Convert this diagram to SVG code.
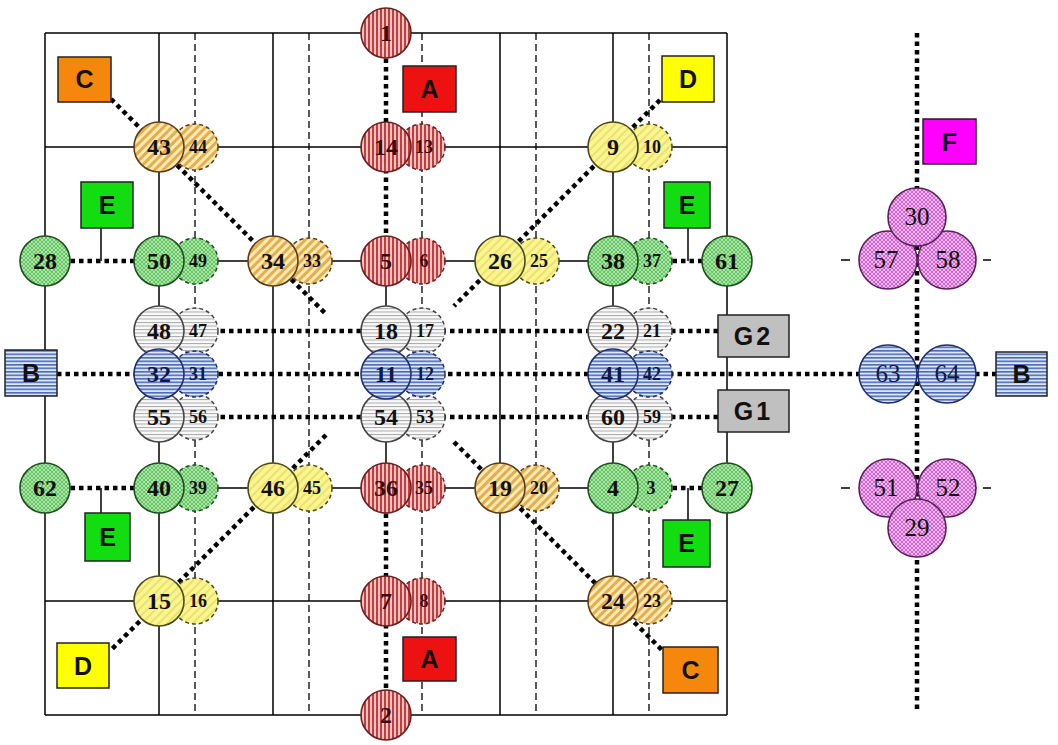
<svg xmlns="http://www.w3.org/2000/svg" width="1058" height="745" viewBox="0 0 1058 745">
<defs>
<pattern id="pRed" width="4" height="4" patternUnits="userSpaceOnUse"><rect width="4" height="4" fill="#f2c4c4"/><rect width="2" height="4" fill="#c43c3c"/></pattern>
<pattern id="pOr" width="6" height="6" patternUnits="userSpaceOnUse" patternTransform="rotate(45)"><rect width="6" height="6" fill="#fcebb8"/><rect width="3" height="6" fill="#e6ae4a"/></pattern>
<pattern id="pYe" width="6" height="6" patternUnits="userSpaceOnUse" patternTransform="rotate(45)"><rect width="6" height="6" fill="#fbf590"/><rect width="2" height="6" fill="#ece070"/></pattern>
<pattern id="pGr" width="4" height="4" patternUnits="userSpaceOnUse"><rect width="4" height="4" fill="#ace8a8"/><path d="M0 0L4 4M4 0L0 4" stroke="#5cbc5c" stroke-width="0.9"/></pattern>
<pattern id="pGy" width="4" height="3.5" patternUnits="userSpaceOnUse"><rect width="4" height="3.5" fill="#fafafa"/><rect width="4" height="1" fill="#a8a8a8"/></pattern>
<pattern id="pBl" width="4" height="3.5" patternUnits="userSpaceOnUse"><rect width="4" height="3.5" fill="#dde6f6"/><rect width="4" height="1.6" fill="#4c6cb8"/></pattern>
<pattern id="pMg" width="4" height="4" patternUnits="userSpaceOnUse"><rect width="4" height="4" fill="#f2b8f2"/><path d="M0 0L4 4M4 0L0 4" stroke="#c45ac4" stroke-width="0.9"/></pattern>
<style>
.grid{stroke:#000;stroke-width:1.5;fill:none}
.dash{stroke:#000;stroke-width:1.3;stroke-dasharray:7 4;fill:none}
.dot{stroke:#000;stroke-width:4.5;stroke-dasharray:4.5 4;fill:none}
.thin{stroke:#000;stroke-width:1.5;fill:none}
.m{stroke-width:1.6}
.s{stroke-width:1.5;stroke-dasharray:4 3}
.red{fill:url(#pRed);stroke:#6a2020}
.or{fill:url(#pOr);stroke:#5a3a18}
.ye{fill:url(#pYe);stroke:#4a4a18}
.gr{fill:url(#pGr);stroke:#1e4e1e}
.gy{fill:url(#pGy);stroke:#444}
.bl{fill:url(#pBl);stroke:#1e2e6e}
.mg{fill:url(#pMg);stroke:#5a1e5a}
.t{font-family:"Liberation Serif","Times New Roman",serif;font-size:24px;font-weight:bold;text-anchor:middle;fill:#111}
.tm{font-weight:normal;font-size:25px}
.ts{font-family:"Liberation Serif","Times New Roman",serif;font-size:18px;font-weight:bold;text-anchor:middle;fill:#111}
.tr{fill:#3a0c0c}
.tb{fill:#0c1848}
.box{stroke:#222;stroke-width:1.5}
.lb{font-family:"Liberation Sans",Arial,sans-serif;font-size:25px;font-weight:bold;text-anchor:middle;fill:#111}
</style>
</defs>
<rect width="1058" height="745" fill="#fff"/>

<g id="grid">
<path class="grid" d="M45 33V715M159 33V715M273 33V715M386 261V488M500 33V715M613 33V715M727 33V715"/>
<path class="dash" d="M195 33V715M309 33V715M422 33V715M536 33V715M649 33V715"/>
<path class="grid" d="M45 33H727M45 147H727M45 601H727M45 715H727M159 261H613M159 488H613"/>
</g>

<g id="connectors">
<path class="dot" d="M386 33V261M386 488V715"/>
<path class="dot" d="M111 99L326 314M454 442L664 652"/>
<path class="dot" d="M660 100L454 306M326 435L110 651"/>
<path class="dot" d="M45 261H159M613 261H727M45 488H159M613 488H727"/>
<path class="dot" d="M57 374H996"/>
<path class="dot" d="M195 331H718M195 417H718"/>
<path class="dot" d="M917 33V712"/>
<path class="thin" d="M101 228V261M688 228V261M101 488V513M688 488V520"/>
<path class="thin" d="M841 260H850M983 260H991M841 488H850M983 488H991"/>
</g>

<g id="n1"><circle class="m red" cx="386" cy="33" r="25"/><text class="t tr" x="386" y="41">1</text></g>
<g id="n2"><circle class="m red" cx="386" cy="715" r="25"/><text class="t tr" x="386" y="723">2</text></g>

<g id="n44"><circle class="s or" cx="195" cy="147" r="23"/><text class="ts" x="198" y="153">44</text></g>
<g id="n43"><circle class="m or" cx="159" cy="147" r="25"/><text class="t" x="159" y="155">43</text></g>
<g id="n13"><circle class="s red" cx="422" cy="147" r="23"/><text class="ts tr" x="424" y="153">13</text></g>
<g id="n14"><circle class="m red" cx="386" cy="147" r="25"/><text class="t tr" x="386" y="155">14</text></g>
<g id="n10"><circle class="s ye" cx="649" cy="147" r="23"/><text class="ts" x="652" y="153">10</text></g>
<g id="n9"><circle class="m ye" cx="613" cy="147" r="25"/><text class="t" x="613" y="155">9</text></g>

<g id="n28"><circle class="m gr" cx="45" cy="261" r="25"/><text class="t" x="45" y="269">28</text></g>
<g id="n49"><circle class="s gr" cx="195" cy="261" r="23"/><text class="ts" x="198" y="267">49</text></g>
<g id="n50"><circle class="m gr" cx="159" cy="261" r="25"/><text class="t" x="159" y="269">50</text></g>
<g id="n33"><circle class="s or" cx="309" cy="261" r="23"/><text class="ts" x="312" y="267">33</text></g>
<g id="n34"><circle class="m or" cx="273" cy="261" r="25"/><text class="t" x="273" y="269">34</text></g>
<g id="n6"><circle class="s red" cx="422" cy="261" r="23"/><text class="ts tr" x="424" y="267">6</text></g>
<g id="n5"><circle class="m red" cx="386" cy="261" r="25"/><text class="t tr" x="386" y="269">5</text></g>
<g id="n25"><circle class="s ye" cx="536" cy="261" r="23"/><text class="ts" x="539" y="267">25</text></g>
<g id="n26"><circle class="m ye" cx="500" cy="261" r="25"/><text class="t" x="500" y="269">26</text></g>
<g id="n37"><circle class="s gr" cx="649" cy="261" r="23"/><text class="ts" x="652" y="267">37</text></g>
<g id="n38"><circle class="m gr" cx="613" cy="261" r="25"/><text class="t" x="613" y="269">38</text></g>
<g id="n61"><circle class="m gr" cx="727" cy="261" r="25"/><text class="t" x="727" y="269">61</text></g>

<g id="n47"><circle class="s gy" cx="195" cy="331" r="23"/><text class="ts" x="198" y="337">47</text></g>
<g id="n56"><circle class="s gy" cx="195" cy="417" r="23"/><text class="ts" x="198" y="423">56</text></g>
<g id="n48"><circle class="m gy" cx="159" cy="331" r="25"/><text class="t" x="159" y="339">48</text></g>
<g id="n55"><circle class="m gy" cx="159" cy="417" r="25"/><text class="t" x="159" y="425">55</text></g>
<g id="n31"><circle class="s bl" cx="195" cy="374" r="23"/><text class="ts tb" x="198" y="380">31</text></g>
<g id="n32"><circle class="m bl" cx="159" cy="374" r="25"/><text class="t tb" x="159" y="382">32</text></g>

<g id="n17"><circle class="s gy" cx="422" cy="331" r="23"/><text class="ts" x="425" y="337">17</text></g>
<g id="n53"><circle class="s gy" cx="422" cy="417" r="23"/><text class="ts" x="425" y="423">53</text></g>
<g id="n18"><circle class="m gy" cx="386" cy="331" r="25"/><text class="t" x="386" y="339">18</text></g>
<g id="n54"><circle class="m gy" cx="386" cy="417" r="25"/><text class="t" x="386" y="425">54</text></g>
<g id="n12"><circle class="s bl" cx="422" cy="374" r="23"/><text class="ts tb" x="425" y="380">12</text></g>
<g id="n11"><circle class="m bl" cx="386" cy="374" r="25"/><text class="t tb" x="386" y="382">11</text></g>

<g id="n21"><circle class="s gy" cx="649" cy="331" r="23"/><text class="ts" x="652" y="337">21</text></g>
<g id="n59"><circle class="s gy" cx="649" cy="417" r="23"/><text class="ts" x="652" y="423">59</text></g>
<g id="n22"><circle class="m gy" cx="613" cy="331" r="25"/><text class="t" x="613" y="339">22</text></g>
<g id="n60"><circle class="m gy" cx="613" cy="417" r="25"/><text class="t" x="613" y="425">60</text></g>
<g id="n42"><circle class="s bl" cx="649" cy="374" r="23"/><text class="ts tb" x="652" y="380">42</text></g>
<g id="n41"><circle class="m bl" cx="613" cy="374" r="25"/><text class="t tb" x="613" y="382">41</text></g>

<g id="n62"><circle class="m gr" cx="45" cy="488" r="25"/><text class="t" x="45" y="496">62</text></g>
<g id="n39"><circle class="s gr" cx="195" cy="488" r="23"/><text class="ts" x="198" y="494">39</text></g>
<g id="n40"><circle class="m gr" cx="159" cy="488" r="25"/><text class="t" x="159" y="496">40</text></g>
<g id="n45"><circle class="s ye" cx="309" cy="488" r="23"/><text class="ts" x="312" y="494">45</text></g>
<g id="n46"><circle class="m ye" cx="273" cy="488" r="25"/><text class="t" x="273" y="496">46</text></g>
<g id="n35"><circle class="s red" cx="422" cy="488" r="23"/><text class="ts tr" x="424" y="494">35</text></g>
<g id="n36"><circle class="m red" cx="386" cy="488" r="25"/><text class="t tr" x="386" y="496">36</text></g>
<g id="n20"><circle class="s or" cx="536" cy="488" r="23"/><text class="ts" x="539" y="494">20</text></g>
<g id="n19"><circle class="m or" cx="500" cy="488" r="25"/><text class="t" x="500" y="496">19</text></g>
<g id="n3"><circle class="s gr" cx="649" cy="488" r="23"/><text class="ts" x="651" y="494">3</text></g>
<g id="n4"><circle class="m gr" cx="613" cy="488" r="25"/><text class="t" x="613" y="496">4</text></g>
<g id="n27"><circle class="m gr" cx="727" cy="488" r="25"/><text class="t" x="727" y="496">27</text></g>

<g id="n16"><circle class="s ye" cx="195" cy="601" r="23"/><text class="ts" x="198" y="607">16</text></g>
<g id="n15"><circle class="m ye" cx="159" cy="601" r="25"/><text class="t" x="159" y="609">15</text></g>
<g id="n8"><circle class="s red" cx="422" cy="601" r="23"/><text class="ts tr" x="424" y="607">8</text></g>
<g id="n7"><circle class="m red" cx="386" cy="601" r="25"/><text class="t tr" x="386" y="609">7</text></g>
<g id="n23"><circle class="s or" cx="649" cy="601" r="23"/><text class="ts" x="652" y="607">23</text></g>
<g id="n24"><circle class="m or" cx="613" cy="601" r="25"/><text class="t" x="613" y="609">24</text></g>

<g id="n57"><circle class="m mg" cx="888" cy="260" r="29"/><text class="t tm" x="886" y="268">57</text></g>
<g id="n58"><circle class="m mg" cx="947" cy="260" r="29"/><text class="t tm" x="948" y="268">58</text></g>
<g id="n30"><circle class="m mg" cx="917" cy="217" r="29"/><text class="t tm" x="917" y="225">30</text></g>
<g id="n63"><circle class="m bl" cx="888" cy="374" r="29"/><text class="t tm tb" x="888" y="382">63</text></g>
<g id="n64"><circle class="m bl" cx="947" cy="374" r="29"/><text class="t tm tb" x="947" y="382">64</text></g>
<g id="n51"><circle class="m mg" cx="888" cy="488" r="29"/><text class="t tm" x="886" y="496">51</text></g>
<g id="n52"><circle class="m mg" cx="947" cy="488" r="29"/><text class="t tm" x="948" y="496">52</text></g>
<g id="n29"><circle class="m mg" cx="917" cy="528" r="29"/><text class="t tm" x="917" y="536">29</text></g>

<g id="boxC1"><rect class="box" x="58" y="57" width="53" height="45" fill="#f5880c"/><text class="lb" x="84.5" y="88">C</text></g>
<g id="boxC2"><rect class="box" x="663" y="647" width="55" height="46" fill="#f5880c"/><text class="lb" x="690.5" y="679">C</text></g>
<g id="boxA1"><rect class="box" x="403" y="66" width="53" height="46" fill="#ee1111"/><text class="lb" x="429.5" y="98">A</text></g>
<g id="boxA2"><rect class="box" x="403" y="637" width="53" height="44" fill="#ee1111"/><text class="lb" x="429.5" y="668">A</text></g>
<g id="boxD1"><rect class="box" x="662" y="56" width="52" height="46" fill="#ffff00"/><text class="lb" x="688" y="88">D</text></g>
<g id="boxD2"><rect class="box" x="57" y="643" width="52" height="45" fill="#ffff00"/><text class="lb" x="83" y="675">D</text></g>
<g id="boxE1"><rect class="box" x="81" y="182" width="52" height="46" fill="#11dd11"/><text class="lb" x="107" y="214">E</text></g>
<g id="boxE2"><rect class="box" x="664" y="182" width="46" height="46" fill="#11dd11"/><text class="lb" x="687" y="214">E</text></g>
<g id="boxE3"><rect class="box" x="85" y="513" width="45" height="48" fill="#11dd11"/><text class="lb" x="107.5" y="546">E</text></g>
<g id="boxE4"><rect class="box" x="663" y="520" width="47" height="47" fill="#11dd11"/><text class="lb" x="686.5" y="552">E</text></g>
<g id="boxB1"><rect class="box" x="5" y="350" width="52" height="46" fill="url(#pBl)"/><text class="lb" x="31" y="382">B</text></g>
<g id="boxB2"><rect class="box" x="996" y="352" width="51" height="44" fill="url(#pBl)"/><text class="lb" x="1021.5" y="383">B</text></g>
<g id="boxG2"><rect class="box" x="718" y="315" width="71" height="42" fill="#c0c0c0"/><text class="lb" x="753.5" y="345" letter-spacing="3">G2</text></g>
<g id="boxG1"><rect class="box" x="718" y="390" width="71" height="42" fill="#c0c0c0"/><text class="lb" x="753.5" y="420" letter-spacing="3">G1</text></g>
<g id="boxF"><rect class="box" x="923" y="119" width="53" height="45" fill="#ff00ff"/><text class="lb" x="949.5" y="151">F</text></g>
</svg>
